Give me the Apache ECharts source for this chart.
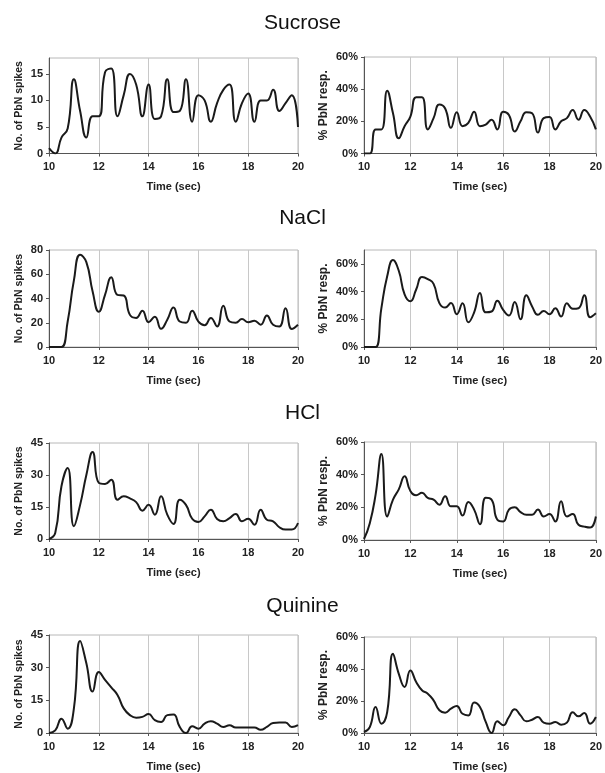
<!DOCTYPE html>
<html>
<head>
<meta charset="utf-8">
<script src="https://cdn.jsdelivr.net/npm/echarts@6/dist/echarts.min.js"></script>
<style>
html,body{margin:0;padding:0;background:#fff;}
#chart{width:605px;height:773px;}
</style>
</head>
<body>
<div id="chart"></div>
<script>
// Time points (sec)
var times = [10,10.25,10.5,10.75,11,11.25,11.5,11.75,12,12.25,12.5,12.75,13,13.25,13.5,13.75,14,14.25,14.5,14.75,15,15.25,15.5,15.75,16,16.25,16.5,16.75,17,17.25,17.5,17.75,18,18.25,18.5,18.75,19,19.25,19.5,19.75,20];
var xTicks = [10,12,14,16,18,20];
var tastants = ["Sucrose","NaCl","HCl","Quinine"];

// Number of PbN spikes
var sucroseSpikes = [1,0,3,4.7,14,8,3,7,7,15.3,16,7,11,15,13,7,13,6.5,7,14,7.8,8,14,6,11,10,6,9.5,12,13,6,9.5,11.3,6,10,10,12,8,9.5,11,5];
var naclSpikes = [0,0,0,21,55,76,70,46,29,43,57.5,43,42.5,26.5,24,30,20.5,25,15,22.5,32.6,21,20,30,21,18,24,17,34,21,20,23,20.5,21.6,18.4,26,18.4,17,32,14.8,18.4];
var hclSpikes = [0,2.8,24.7,33.3,6,16,30,40.8,26.3,25.8,27.8,18.4,20,19,17.3,13.3,16,11.4,20,11.4,7,18.4,16,9.5,8,10.6,13.75,9.4,8.3,9.8,11.7,8.3,9.5,6.7,13.75,9,8.3,5.5,4.4,4.4,7.5];
var quinineSpikes = [0,1.2,6.6,2,11.3,42.2,32,19,28,24.4,21,17.5,11.3,8.2,7,7.4,8.7,5.9,5.1,8.2,8.5,2.8,0,3.1,2,4.3,5.4,4.3,2.8,3.6,2.5,2.5,2.5,2.5,1.5,2.8,4.6,4.8,4.8,2.8,3.6];

// % PbN responding
var sucrosePct = [0,0,15,15,39,25,9.5,17,23,35,35,15,22,30.5,28,16,25.7,17,19,26,17,18,21,15,26,24,13.7,20,25.7,25,13,22,22.7,15,20,22,27,21,27,23,15];
var naclPct = [0,0,0,28,51,62.7,55,38,33,41.5,50.5,49,45.6,31.7,28.5,31.7,23.7,31.5,17.8,25,39,25,25.6,33.4,26.8,22.7,32.4,20,37.3,29.3,23.2,26,23.7,28,22,31.5,27.6,28,37.3,21.5,24.4];
var hclPct = [0.6,10.3,27.8,52.6,14.4,24.7,31,39,30,27.4,28.9,25.8,24.7,21.6,26.8,20.6,20.6,15,23.3,18.6,9.7,25.8,24.7,12.4,11.3,18.6,20,17.1,15.5,15.5,18.6,14.4,15.9,11.3,23.7,14.4,15.9,9.3,8.2,7.6,14.4];
var quininePct = [0.6,3.7,16.3,5.8,13,49.6,37,28.8,39,31.9,26.7,24.6,20.4,14.2,12.7,15.2,16.9,12,11,19,16.3,6.9,0,7.3,4.8,10,14.8,11,7.3,8.3,10,6.5,5.8,6.9,5.2,6.5,13,10.4,12.5,5.8,10];

// Y-axis scales
var spikeMax = [18,80,45,45];
var spikeInterval = [5,20,15,15];
var pctMax = [60,70,60,60];
var pctInterval = [20,20,20,20];

var spikeSeries = [sucroseSpikes, naclSpikes, hclSpikes, quinineSpikes];
var pctSeries = [sucrosePct, naclPct, hclPct, quininePct];

function pairs(vals){ return times.map(function(t,i){ return [t, vals[i]]; }); }

var gridsL = [{top:58,height:95.5},{top:250,height:97},{top:443,height:96},{top:635,height:98}];
var gridsR = [{top:57,height:96.5},{top:250,height:97},{top:442,height:98},{top:637,height:96}];
var titleTops = [8,203,398,591];

var labelFont = {fontFamily:'Liberation Sans, Arial, sans-serif', fontWeight:'bold', fontSize:11, color:'#222'};

var option = {
  animation:false,
  backgroundColor:'#fff',
  title: tastants.map(function(n,i){
    return {text:n, left:'center', top:titleTops[i], textStyle:{fontFamily:'Liberation Sans, Arial, sans-serif', fontWeight:'normal', fontSize:21, color:'#111'}};
  }),
  grid:[], xAxis:[], yAxis:[], series:[]
};

function addPanel(gi, gridDef, left, width, yMax, yInt, yName, yNameGap, yFmt, yNameSize, data){
  option.grid.push({left:left, width:width, top:gridDef.top, height:gridDef.height, show:true, borderColor:'#b8b8b8', borderWidth:1, containLabel:false});
  option.xAxis.push({
    type:'value', gridIndex:gi, min:10, max:20, interval:2,
    name:'Time (sec)', nameLocation:'middle', nameGap:28,
    nameTextStyle:{fontFamily:'Liberation Sans, Arial, sans-serif', fontWeight:'bold', fontSize:11, color:'#222'},
    axisLine:{show:true, onZero:false, lineStyle:{color:'#555', width:1}},
    axisTick:{show:true, length:3, lineStyle:{color:'#555'}},
    axisLabel:Object.assign({margin:8}, labelFont),
    splitLine:{show:true, lineStyle:{color:'#c8c8c8', width:1}}
  });
  option.yAxis.push({
    type:'value', gridIndex:gi, min:0, max:yMax, interval:yInt,
    name:yName, nameLocation:'middle', nameGap:yNameGap, nameRotate:90,
    nameTextStyle:{fontFamily:'Liberation Sans, Arial, sans-serif', fontWeight:'bold', fontSize:yNameSize, color:'#222'},
    axisLine:{show:true, lineStyle:{color:'#555', width:1}},
    axisTick:{show:true, length:3, lineStyle:{color:'#555'}},
    axisLabel:Object.assign({margin:6, formatter:yFmt, showMaxLabel: (yMax % yInt === 0)}, labelFont),
    splitLine:{show:false}
  });
  option.series.push({
    type:'line', xAxisIndex:gi, yAxisIndex:gi, data:pairs(data), smooth:0.5,
    showSymbol:false, symbol:'none', clip:true,
    lineStyle:{color:'#1a1a1a', width:2}
  });
}

for (var r=0; r<4; r++){
  addPanel(option.grid.length, gridsL[r], 49, 249, spikeMax[r], spikeInterval[r], 'No. of PbN spikes', 24, '{value}', 10.5, spikeSeries[r]);
  addPanel(option.grid.length, gridsR[r], 364, 235, pctMax[r], pctInterval[r], '% PbN resp.', 34, '{value}%', 12, pctSeries[r]);
}

var chart = echarts.init(document.getElementById('chart'), null, {renderer:'canvas'});
chart.setOption(option);
</script>
</body>
</html>
